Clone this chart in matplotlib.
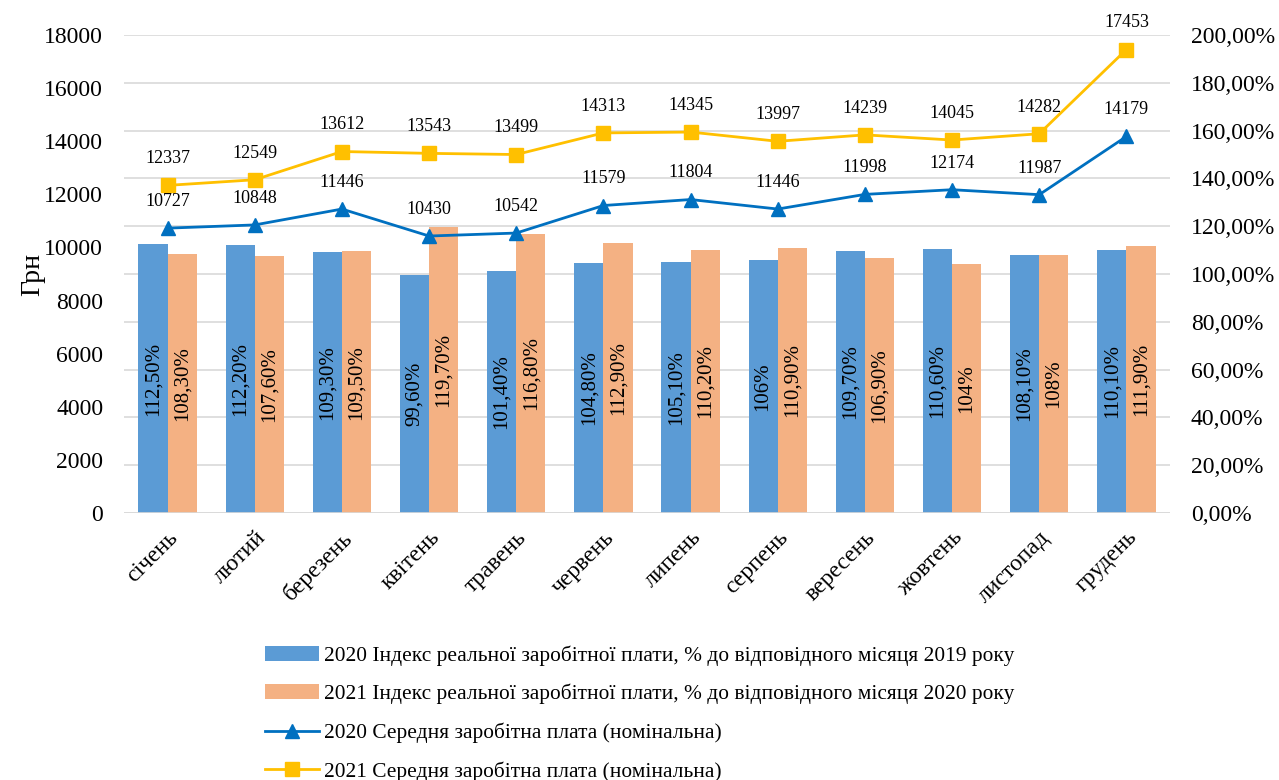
import matplotlib.pyplot as plt
import numpy as np
from matplotlib.ticker import FuncFormatter

plt.rcParams['font.family'] = ['Liberation Serif', 'DejaVu Serif']

months = ['січень', 'лютий', 'березень', 'квітень', 'травень', 'червень',
          'липень', 'серпень', 'вересень', 'жовтень', 'листопад', 'грудень']

# індекси реальної зарплати, %
idx_2020 = [112.5, 112.2, 109.3, 99.6, 101.4, 104.8, 105.1, 106.0, 109.7, 110.6, 108.1, 110.1]
idx_2021 = [108.3, 107.6, 109.5, 119.7, 116.8, 112.9, 110.2, 110.9, 106.9, 104.0, 108.0, 111.9]
idx_2020_lbl = ['112,50%', '112,20%', '109,30%', '99,60%', '101,40%', '104,80%',
                '105,10%', '106%', '109,70%', '110,60%', '108,10%', '110,10%']
idx_2021_lbl = ['108,30%', '107,60%', '109,50%', '119,70%', '116,80%', '112,90%',
                '110,20%', '110,90%', '106,90%', '104%', '108%', '111,90%']

# середня номінальна зарплата, грн
wage_2020 = [10727, 10848, 11446, 10430, 10542, 11579, 11804, 11446, 11998, 12174, 11987, 14179]
wage_2021 = [12337, 12549, 13612, 13543, 13499, 14313, 14345, 13997, 14239, 14045, 14282, 17453]

c_bar20 = '#5B9BD5'
c_bar21 = '#F4B183'
c_line20 = '#0070C0'
c_line21 = '#FFC000'

fig = plt.figure(figsize=(12.79, 7.8), dpi=100)
ax = fig.add_axes([124 / 1279, 1 - 513 / 780, (1170 - 124) / 1279, (513 - 35) / 780])
ax2 = ax.twinx()

x = np.arange(len(months))
w = 0.335

b20 = ax2.bar(x - w / 2, idx_2020, w, color=c_bar20, label='2020 Індекс реальної заробітної плати, % до відповідного місяця 2019 року')
b21 = ax2.bar(x + w / 2, idx_2021, w, color=c_bar21, label='2021 Індекс реальної заробітної плати, % до відповідного місяця 2020 року')
for bars, labels in ((b20, idx_2020_lbl), (b21, idx_2021_lbl)):
    for rect, t in zip(bars, labels):
        ax2.text(rect.get_x() + rect.get_width() / 2, rect.get_height() / 2, t,
                 rotation=90, ha='center', va='center', fontsize=15)
ax2.set_ylim(0, 200)
ax2.set_yticks(np.arange(0, 201, 20))
ax2.yaxis.set_major_formatter(FuncFormatter(lambda v, p: f'{v:.2f}%'.replace('.', ',')))

ax.set_zorder(ax2.get_zorder() + 1)
ax.patch.set_visible(False)

l20, = ax.plot(x, wage_2020, color=c_line20, lw=2, marker='^', ms=10,
               label='2020 Середня заробітна плата (номінальна)')
l21, = ax.plot(x, wage_2021, color=c_line21, lw=2, marker='s', ms=10,
               label='2021 Середня заробітна плата (номінальна)')
for ys in (wage_2020, wage_2021):
    for xi, yi in zip(x, ys):
        ax.annotate(str(yi), (xi, yi), xytext=(0, 13), textcoords='offset points',
                    ha='center', va='bottom', fontsize=13)

ax.set_ylim(0, 18000)
ax.set_yticks(np.arange(0, 18001, 2000))
ax.set_xlim(-0.5, len(months) - 0.5)
ax.set_xticks(x)
ax.set_xticklabels(months, rotation=45, ha='right', rotation_mode='anchor')
ax.set_ylabel('Грн', fontsize=20, labelpad=-1)

ax2.yaxis.grid(True, color='#D9D9D9', lw=1.2)
ax2.set_axisbelow(True)
for a in (ax, ax2):
    for s in a.spines.values():
        s.set_visible(False)
    a.tick_params(length=0, labelsize=17)
ax.tick_params(axis='y', pad=15)
ax2.tick_params(axis='y', pad=15)
ax.tick_params(axis='x', pad=10)
ax.axhline(0, color='#D9D9D9', lw=1.2)

handles = [b20, b21, l20, l21]
fig.legend(handles, [h.get_label() for h in handles], loc='upper left',
           bbox_to_anchor=(246 / 1279, 1 - 626 / 780), frameon=False, fontsize=15.4,
           handlelength=2.5, handleheight=0.7, labelspacing=0.85, handletextpad=0.25)

fig.savefig('out.png', dpi=100)
